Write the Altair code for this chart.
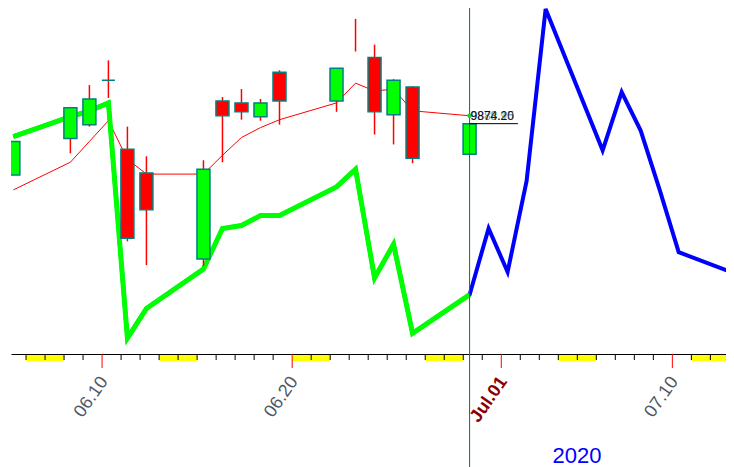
import altair as alt
import pandas as pd

# ---------------- data ----------------
candle_dates = ["2020-06-05", "2020-06-08", "2020-06-09", "2020-06-10", "2020-06-11",
                "2020-06-12", "2020-06-15", "2020-06-16", "2020-06-17", "2020-06-18",
                "2020-06-19", "2020-06-22", "2020-06-23", "2020-06-24", "2020-06-25",
                "2020-06-26", "2020-06-29"]
opens  = [9762, 9836, 9864, 9954, 9814, 9766, 9592, 9912, 9908, 9880, 9970, 9912, None, 10000, 9884, 9940, 9804]
closes = [9830, 9898, 9916, 9954, 9634, 9692, 9774, 9882, 9890, 9908, 9912, 9978, None, 9890, 9954, 9796, 9866]
highs  = [9830, 9898, 9944, 9994, 9860, 9800, 9792, 9920, 9936, 9916, 9974, 9978, 10078, 10026, 9956, 9942, 9866]
lows   = [9762, 9806, 9860, 9918, 9628, 9580, 9578, 9788, 9874, 9872, 9864, 9890, 10012, 9844, 9824, 9786, 9804]
ma_values = [9732, 9788, 9830, 9872, 9794, 9764, 9764, 9802, 9838, 9858, 9874, 9908, 9948, 9932, 9936, 9892, 9882]
trend_values = [9840, 9880, 9892, 9908, 9432, 9492, 9572, 9654, 9660, 9680, 9680, 9738, 9774, 9554, 9622, 9442, 9520]

forecast_dates = ["2020-06-30", "2020-07-01", "2020-07-02", "2020-07-03", "2020-07-06",
                  "2020-07-07", "2020-07-08", "2020-07-09", "2020-07-10", "2020-07-13"]
forecast_values = [9654, 9566, 9750, 10098, 9812, 9930, 9852, 9732, 9606, 9562]

major_dates = ["2020-06-10", "2020-06-20", "2020-07-01", "2020-07-10"]
major_labels = ["06.10", "06.20", "Jul.01", "07.10"]
major_is_month_start = [False, False, True, False]

price_labels = ["9878.95", "9888.15", "9874.20"]
price_label_colors = ["#f0a030", "#5aa8e0", "#111111"]
price_line_end = "2020-07-01T21:00:00Z"
year_label = "2020"
view_start = "2020-06-05T11:20:00Z"
view_end = "2020-07-12T13:25:00Z"

SESSION = "T08:00:00Z"

# ---------------- tables ----------------
candles = pd.DataFrame({
    "t": [d + SESSION for d in candle_dates],
    "open": opens, "close": closes, "high": highs, "low": lows,
    "ma": ma_values, "trend": trend_values,
})
forecast = pd.DataFrame({
    "t": [d + SESSION for d in candle_dates] + [d + SESSION for d in forecast_dates],
    "v": trend_values + forecast_values,
})
days = pd.date_range("2020-06-06", "2020-07-13", freq="D")
minor = pd.DataFrame({"t": [d.strftime("%Y-%m-%d") + "T00:00:00Z" for d in days
                            if d.strftime("%Y-%m-%d") not in major_dates]})
weekends = pd.DataFrame({
    "t": [d.strftime("%Y-%m-%d") + "T00:00:00Z" for d in days if d.dayofweek == 5],
    "t2": [(d + pd.Timedelta(days=2)).strftime("%Y-%m-%d") + "T00:00:00Z" for d in days if d.dayofweek == 5],
})
majors = pd.DataFrame({
    "t": [d + "T00:00:00Z" for d in major_dates],
    "label": major_labels,
    "month": major_is_month_start,
})
last = pd.DataFrame({"t": [candle_dates[-1] + SESSION], "t2": [price_line_end],
                     "close": [closes[-1]], "ma": [ma_values[-1]]})
plabels = pd.DataFrame({"t": [candle_dates[-1] + SESSION] * len(price_labels),
                        "ma": [ma_values[-1]] * len(price_labels),
                        "label": price_labels, "col": price_label_colors})

FONT = "Liberation Sans"
to_ms = lambda s: int(pd.Timestamp(s).value // 10**6)
xscale = alt.Scale(type="utc", domain=[to_ms(view_start), to_ms(view_end)], nice=False)
yscale = alt.Scale(domain=[9400, 10100], zero=False, nice=False)
X = lambda f="t": alt.X(f"{f}:T", scale=xscale,
                        axis=alt.Axis(title=None, labels=False, ticks=False, grid=False,
                                      domainColor="black", domainWidth=1))
Y = lambda f: alt.Y(f"{f}:Q", scale=yscale, axis=None)

band = alt.Chart(weekends).mark_rect(color="#ffff00").encode(
    x=X(), x2="t2:T", y=alt.value(347), y2=alt.value(353))
minor_ticks = alt.Chart(minor).mark_rule(color="black", strokeWidth=1).encode(
    x=X(), y=alt.value(346), y2=alt.value(352))
major_ticks = alt.Chart(majors).mark_rule(color="red", strokeWidth=1).encode(
    x=X(), y=alt.value(346), y2=alt.value(360))
labels_day = alt.Chart(majors).transform_filter("!datum.month").mark_text(
    angle=305, align="right", baseline="middle", fontSize=18, font=FONT, dx=4,
    color="#4d5866").encode(x=X(), y=alt.value(374), text="label:N")
labels_month = alt.Chart(majors).transform_filter("datum.month").mark_text(
    angle=305, align="right", baseline="middle", fontSize=18, font=FONT, dx=4,
    color="#8b0000", fontWeight="bold").encode(x=X(), y=alt.value(374), text="label:N")
year = alt.Chart(last).mark_text(text=year_label, fontSize=22, font=FONT, color="#0000ff",
                                 align="center", baseline="alphabetic").encode(
    x=alt.value(566), y=alt.value(455))

ma_line = alt.Chart(candles).mark_line(color="#ff0000", strokeWidth=1, clip=True).encode(
    x=X(), y=Y("ma"))
blue = alt.Chart(forecast).mark_line(color="#0000ff", strokeWidth=4, clip=True).encode(
    x=X(), y=Y("v"))
green = alt.Chart(candles).mark_line(color="#00ff00", strokeWidth=5, clip=True).encode(
    x=X(), y=Y("trend"))
wicks = alt.Chart(candles).mark_rule(color="#ff0000", strokeWidth=1.5, clip=True).encode(
    x=X(), y=Y("low"), y2="high:Q")
bodies = alt.Chart(candles).mark_bar(size=13, stroke="#008080", strokeWidth=1.5, clip=True).encode(
    x=X(), y=Y("open"), y2="close:Q",
    color=alt.condition("datum.close >= datum.open", alt.value("#00ff00"), alt.value("#ff0000")))
vline = alt.Chart(last).mark_rule(color="#008000", strokeWidth=1).encode(
    x=X(), y=alt.value(0), y2=alt.value(459))
close_line = alt.Chart(last).mark_rule(color="black", strokeWidth=1).encode(
    x=X(), x2="t2:T", y=Y("close"))
ma_dot = alt.Chart(last).mark_point(filled=True, color="#22cc22", size=22, opacity=1).encode(
    x=X(), y=Y("ma"))
ptext = alt.Chart(plabels).mark_text(align="left", baseline="middle", fontSize=12, font=FONT, dx=1).encode(
    x=X(), y=Y("ma"), text="label:N", color=alt.Color("col:N", scale=None))

chart = alt.layer(band, minor_ticks, major_ticks, labels_day, labels_month, year, ma_line, blue, green,
                  wicks, bodies, vline, close_line, ma_dot, ptext).properties(
    width=715, height=346,
    autosize=alt.AutoSizeParams(type="none"),
    padding={"left": 3, "top": 0, "right": 0, "bottom": 113},
).configure_view(stroke=None)

chart.save("out.html", embed_options={"renderer": "svg", "actions": False})
